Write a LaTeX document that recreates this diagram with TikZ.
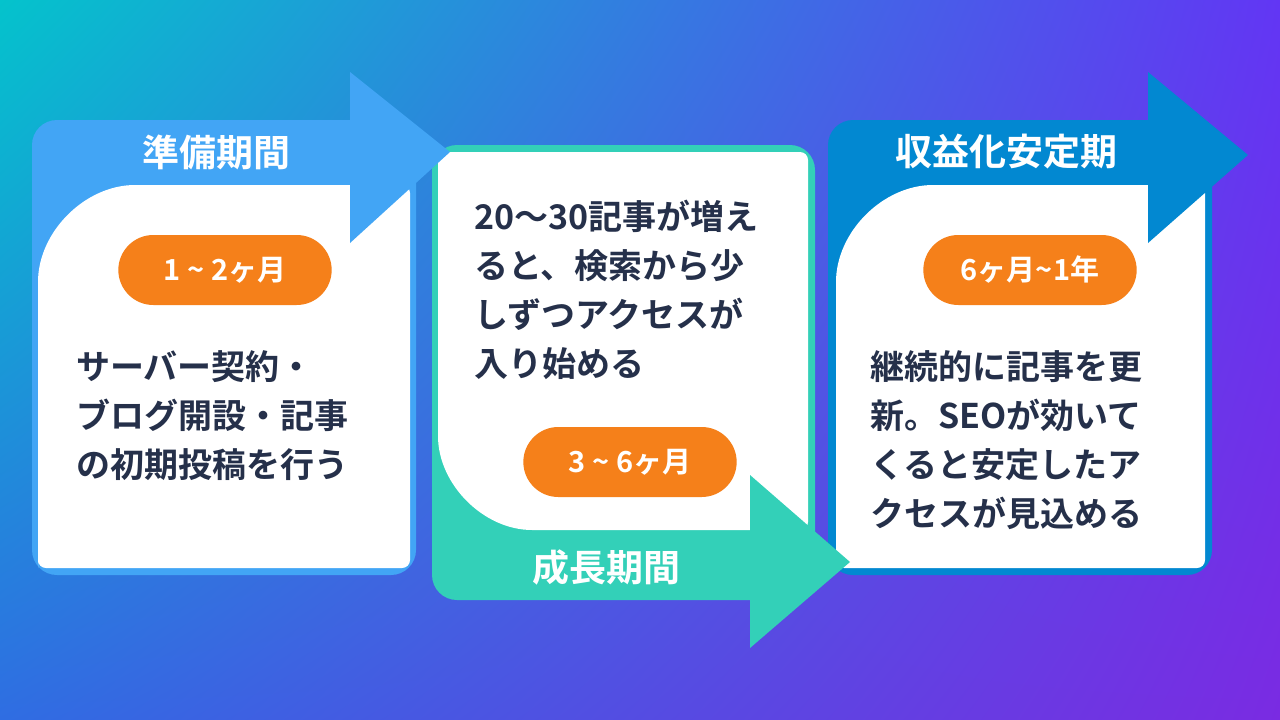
\documentclass[tikz,border=0pt]{standalone}
\usepackage{fontspec}
\setmainfont{Noto Sans CJK JP}[BoldFont={* Bold}]
\usetikzlibrary{shapes.misc,positioning,shadings}
\definecolor{bgA}{HTML}{04C3CC}
\definecolor{bgB}{HTML}{6236F4}
\definecolor{bgC}{HTML}{2F6DE2}
\definecolor{bgD}{HTML}{7A2BE2}
\definecolor{prepblue}{HTML}{42A5F5}
\definecolor{growteal}{HTML}{33D0B8}
\definecolor{stabblue}{HTML}{0288D1}
\definecolor{pillorange}{HTML}{F5801A}
\definecolor{inktext}{HTML}{25304A}
\tikzset{
  pill/.style={rounded rectangle, fill=pillorange, text=white, minimum width=220pt, minimum height=70pt, font=\bfseries\fontsize{29}{32}\selectfont},
  head/.style={text=white, font=\bfseries\fontsize{37}{40}\selectfont},
  body/.style={text=inktext, anchor=north west, align=left, inner sep=0pt, font=\bfseries\fontsize{34}{49}\selectfont},
}
\begin{document}
\begin{tikzpicture}[x=1pt,y=-1pt]
    \useasboundingbox (0,0) rectangle (1280,720);
    \shade[upper left=bgA, upper right=bgB, lower left=bgC, lower right=bgD] (0,0) rectangle (1280,720);

    % cards
    \fill[stabblue, rounded corners=25pt] (828,120) rectangle (1212,575);
    \fill[white, rounded corners=8pt] (836,560) -- (836,290) arc[start angle=180, end angle=270, radius=105] -- (1205,185) -- (1205,568) -- (836,568) -- cycle;
    \fill[growteal, rounded corners=25pt] (432,145) rectangle (815,600);
    \fill[white, rounded corners=8pt] (438,152) -- (808,152) -- (808,530) -- (540,530) arc[start angle=90, end angle=180, radius=102] -- cycle;
    \fill[prepblue, rounded corners=25pt] (32,120) rectangle (416,575);
    \fill[white, rounded corners=8pt] (38,560) -- (38,290) arc[start angle=180, end angle=270, radius=105] -- (410,185) -- (410,568) -- (38,568) -- cycle;

    % arrow heads
    \fill[stabblue] (1148,72) -- (1248,155) -- (1148,243) -- cycle;
    \fill[growteal] (750,475) -- (850,562) -- (750,648) -- cycle;
    \fill[prepblue] (350,72) -- (450,152) -- (350,243) -- cycle;

    % titles
    \node[head] (prep) at (216,152) {準備期間};
    \node[head] (grow) at (606,567) {成長期間};
    \node[head] (stab) at (1006,152) {収益化安定期};

    % periods
    \node[pill] (prepspan) at (225,270) {1 \textasciitilde{} 2ヶ月};
    \node[pill] (growspan) at (630,462) {3 \textasciitilde{} 6ヶ月};
    \node[pill] (stabspan) at (1030,270) {6ヶ月\textasciitilde1年};

    % descriptions
    \node[body] (prepnote) at (76,350) {サーバー契約・\\ブログ開設・記事\\の初期投稿を行う};
    \node[body] (grownote) at (474,200) {20〜30記事が増え\\ると、検索から少\\しずつアクセスが\\入り始める};
    \node[body] (stabnote) at (870,350) {継続的に記事を更\\新。SEOが効いて\\くると安定したア\\クセスが見込める};
\end{tikzpicture}
\end{document}
